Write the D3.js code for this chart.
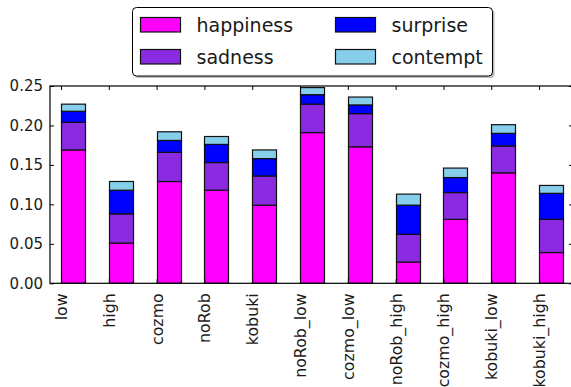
<!DOCTYPE html>
<html>
<head>
<meta charset="utf-8">
<script src="https://cdn.jsdelivr.net/npm/d3@7"></script>
<style>
  html, body { margin: 0; padding: 0; background: #fff; }
  svg { display: block; font-family: "DejaVu Sans", sans-serif; }
</style>
</head>
<body>
<svg id="chart" width="571" height="387"></svg>
<script>
// Conditions along the x axis
const categories = ["low", "high", "cozmo", "noRob", "kobuki", "noRob_low",
  "cozmo_low", "noRob_high", "cozmo_high", "kobuki_low", "kobuki_high"];

// Mean share of each emotion per condition (stacked bottom to top)
const happiness = [0.169, 0.051, 0.129, 0.118, 0.099, 0.191, 0.173, 0.027, 0.081, 0.140, 0.039];
const sadness   = [0.035, 0.037, 0.037, 0.035, 0.037, 0.036, 0.042, 0.035, 0.034, 0.034, 0.042];
const surprise  = [0.014, 0.030, 0.015, 0.023, 0.022, 0.012, 0.011, 0.037, 0.019, 0.016, 0.033];
const contempt  = [0.009, 0.011, 0.011, 0.010, 0.011, 0.009, 0.010, 0.014, 0.012, 0.011, 0.010];

const seriesNames  = ["happiness", "sadness", "surprise", "contempt"];
const seriesColors = ["#ff00ff", "#8a2be2", "#0000ff", "#87ceeb"];
const yTicks = [0.00, 0.05, 0.10, 0.15, 0.20, 0.25];

const rows = categories.map((c, i) => ({
  cat: c, idx: i,
  happiness: happiness[i], sadness: sadness[i], surprise: surprise[i], contempt: contempt[i]
}));

const svg = d3.select("#chart");
const plot = { left: 50, right: 573, top: 86, bottom: 283.3 };
const barWidth = 0.5;

// x is a continuous index axis; each bar starts at its integer index
const x = d3.scaleLinear().domain([-0.23, 10.71]).range([plot.left, plot.right]);
const y = d3.scaleLinear().domain([0, 0.25]).range([plot.bottom, plot.top]);

const stack = d3.stack().keys(seriesNames);
const layers = stack(rows);

// Stacked bars
const g = svg.append("g");
layers.forEach((layer, k) => {
  g.selectAll(null)
    .data(layer)
    .join("rect")
    .attr("x", d => Math.round(x(d.data.idx)) + 0.5)
    .attr("width", d => Math.round(x(d.data.idx + barWidth)) - Math.round(x(d.data.idx)))
    .attr("y", d => y(d[1]))
    .attr("height", d => y(d[0]) - y(d[1]))
    .attr("fill", seriesColors[k])
    .attr("stroke", "#111")
    .attr("stroke-width", 1.2);
});

// Frame
svg.append("rect")
  .attr("x", plot.left).attr("y", plot.top)
  .attr("width", plot.right - plot.left).attr("height", plot.bottom - plot.top)
  .attr("fill", "none").attr("stroke", "#000").attr("stroke-width", 1.2);

// Y axis (inward ticks, mirrored on the right)
const yAxis = d3.axisLeft(y).tickValues(yTicks).tickFormat(d3.format(".2f"))
  .tickSizeInner(-4).tickSizeOuter(0).tickPadding(7);
const ya = svg.append("g").attr("transform", `translate(${plot.left},0)`).call(yAxis);
ya.select(".domain").remove();
ya.selectAll("text").attr("font-size", 15).attr("fill", "#1a1a1a")
  .attr("font-family", "DejaVu Sans, sans-serif");

const yAxisR = d3.axisRight(y).tickValues(yTicks).tickFormat("").tickSizeInner(-4).tickSizeOuter(0);
const yr = svg.append("g").attr("transform", `translate(${plot.right},0)`).call(yAxisR);
yr.select(".domain").remove();

// X axis: ticks at each bar's left edge, labels rotated
const xIdx = d3.range(categories.length);
const xAxis = d3.axisBottom(x).tickValues(xIdx).tickFormat(i => categories[i])
  .tickSizeInner(-4).tickSizeOuter(0).tickPadding(10);
const xa = svg.append("g").attr("transform", `translate(0,${plot.bottom})`).call(xAxis);
xa.select(".domain").remove();
xa.selectAll("text")
  .attr("font-size", 15.8).attr("fill", "#1a1a1a")
  .attr("font-family", "DejaVu Sans, sans-serif")
  .attr("transform", "rotate(-90)")
  .attr("text-anchor", "end")
  .attr("x", -10).attr("y", 0).attr("dy", "0.35em");

const xAxisTop = d3.axisTop(x).tickValues(xIdx).tickFormat("").tickSizeInner(-4).tickSizeOuter(0);
const xt = svg.append("g").attr("transform", `translate(0,${plot.top})`).call(xAxisTop);
xt.select(".domain").remove();

// Legend
const lg = svg.append("g");
const lb = { x: 132.5, y: 7.5, w: 360, h: 68.5 };
lg.append("rect").attr("x", lb.x + 2).attr("y", lb.y + 2).attr("width", lb.w).attr("height", lb.h)
  .attr("rx", 4).attr("fill", "#8c8c8c").attr("opacity", 0.6);
lg.append("rect").attr("x", lb.x).attr("y", lb.y).attr("width", lb.w).attr("height", lb.h)
  .attr("rx", 4).attr("fill", "#fff").attr("stroke", "#000").attr("stroke-width", 1);

const legendPos = [
  { px: 140.5, ty: 25 }, { px: 140.5, ty: 57 },
  { px: 335.5, ty: 25 }, { px: 335.5, ty: 57 }
];
seriesNames.forEach((name, k) => {
  const p = legendPos[k];
  lg.append("rect").attr("x", p.px).attr("y", p.ty - 7.5).attr("width", 40).attr("height", 14.5)
    .attr("fill", seriesColors[k]).attr("stroke", "#111").attr("stroke-width", 1.2);
  lg.append("text").attr("x", p.px + 56).attr("y", p.ty).attr("dy", "0.35em")
    .attr("font-size", 19).attr("fill", "#1a1a1a").text(name);
});
</script>
</body>
</html>
